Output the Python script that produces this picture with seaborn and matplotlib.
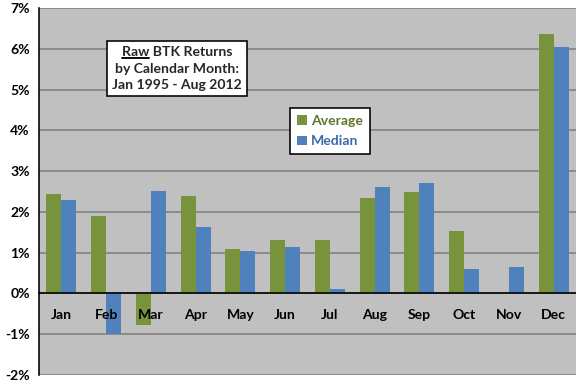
import matplotlib; matplotlib.use('Agg')
import matplotlib.pyplot as plt
from matplotlib.lines import Line2D
from matplotlib.transforms import IdentityTransform
from matplotlib.font_manager import FontProperties
from matplotlib.ticker import FixedLocator, FuncFormatter
import numpy as np
import pandas as pd
import seaborn as sns

# Data (monthly returns, %)
months = ["Jan", "Feb", "Mar", "Apr", "May", "Jun", "Jul", "Aug", "Sep", "Oct", "Nov", "Dec"]
average = [2.43, 1.91, -0.78, 2.40, 1.08, 1.30, 1.32, 2.33, 2.48, 1.54, 0.0, 6.37]
median = [2.28, -1.00, 2.52, 1.64, 1.05, 1.15, 0.12, 2.60, 2.70, 0.61, 0.64, 6.05]
series = ["Average", "Median"]
colors = {"Average": "#77933C", "Median": "#4F81BD"}
text_colors = ["#5E7530", "#3A6AA8"]
yticks = list(range(-2, 8))

df = pd.DataFrame({
    "month": months * 2,
    "value": average + median,
    "series": ["Average"] * len(months) + ["Median"] * len(months),
})

sns.set_style("white")
plt.rcParams['font.family'] = ['Lato', 'DejaVu Sans']
plt.rcParams['font.weight'] = 'bold'
FS = 10.5

fig = plt.figure(figsize=(6, 4), dpi=96)
ax = fig.add_axes([39 / 576, 1 - 375 / 384, 537 / 576, 367 / 384])
ax.set_facecolor("#C0C0C0")

# gridlines under the bars, axis (labels) above them
for v in yticks:
    ax.axhline(v, color="#808080", lw=1.2, zorder=0)

sns.barplot(data=df, x="month", y="value", hue="series", palette=colors,
            order=months, hue_order=series, width=0.67, saturation=1,
            edgecolor="none", ax=ax, legend=True, zorder=1)

ax.set_axisbelow(False)
ax.set_ylim(-2, 7)
ax.set_xlim(-0.5, 11.5)
ax.yaxis.set_major_locator(FixedLocator(yticks))
ax.yaxis.set_major_formatter(FuncFormatter(lambda v, p: f"{int(v)}%"))
ax.grid(False)
ax.set_xlabel("")
ax.set_ylabel("")

for s in ["top", "right"]:
    ax.spines[s].set_visible(False)
ax.spines["left"].set_color("black")
ax.spines["left"].set_linewidth(1.2)
ax.spines["bottom"].set_position(("data", 0))
ax.spines["bottom"].set_color("black")
ax.spines["bottom"].set_linewidth(1.2)

ax.tick_params(axis='y', which='major', direction='out', length=4, width=1,
               color='black', labelsize=FS, pad=3)
ax.tick_params(axis='x', which='major', length=0, pad=12, labelsize=FS)
ax.set_xticks(np.arange(0.5, 11, 1), minor=True)
ax.tick_params(axis='x', which='minor', direction='out', length=5, width=1, color='black')
for lbl in ax.get_xticklabels() + ax.get_yticklabels():
    lbl.set_fontweight('bold')
    lbl.set_color('black')

leg = ax.legend(loc='upper left', bbox_to_anchor=(0.468, 0.7275), frameon=True,
                fancybox=False, edgecolor='black', framealpha=1, fontsize=FS,
                handlelength=0.7, handleheight=0.7, handletextpad=0.3,
                labelspacing=0.6, borderpad=0.5, borderaxespad=0)
leg.get_frame().set_linewidth(1.2)
leg.set_zorder(6)
for t, c in zip(leg.get_texts(), text_colors):
    t.set_color(c)
    t.set_fontweight('bold')

title = "Raw BTK Returns\nby Calendar Month:\nJan 1995 - Aug 2012"
txt = ax.text(0.257, 0.835, title, transform=ax.transAxes, ha='center', va='center',
              multialignment='center', fontsize=FS, fontweight='bold', linespacing=1.45,
              bbox=dict(boxstyle='square,pad=0.35', fc='white', ec='black', lw=1.2),
              zorder=6)

# underline "Raw"
fig.canvas.draw()
r = fig.canvas.get_renderer()
fp = FontProperties(family=['Lato', 'DejaVu Sans'], weight='bold', size=FS)
bb = txt.get_window_extent(r)
w1, h1, d1 = r.get_text_width_height_descent("Raw BTK Returns", fp, ismath=False)
wr, _, _ = r.get_text_width_height_descent("Raw", fp, ismath=False)
x0 = bb.x0 + (bb.width - w1) / 2
yb = bb.y1 - (h1 - d1) - 2
fig.add_artist(Line2D([x0, x0 + wr], [yb, yb], transform=IdentityTransform(),
                      color='black', lw=1.4, zorder=7))

fig.savefig("out.png", dpi=96)
